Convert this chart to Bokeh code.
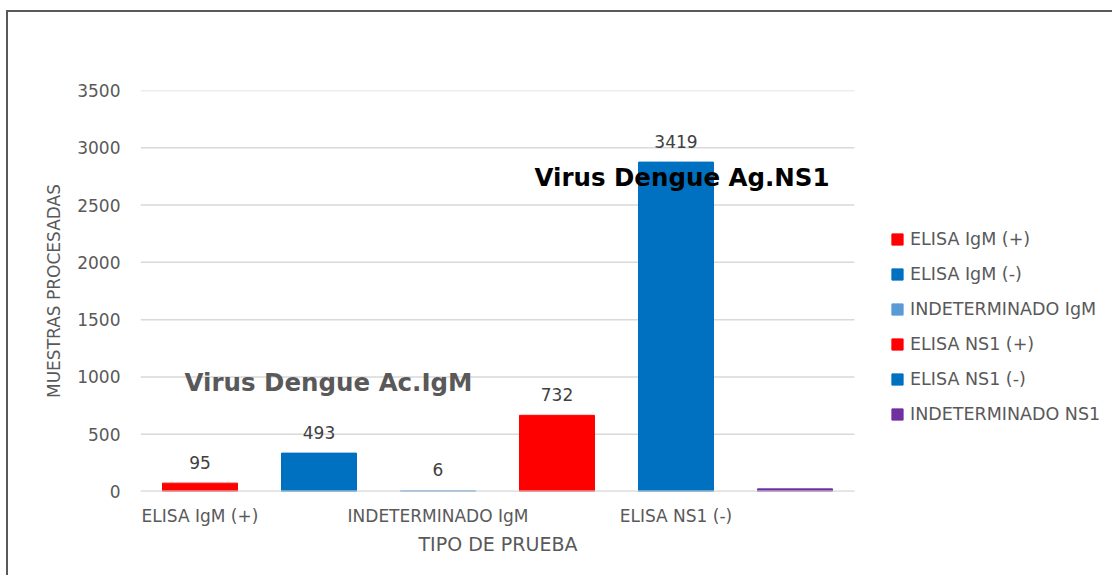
from bokeh.plotting import figure
from bokeh.models import (ColumnDataSource, Range1d, FixedTicker, Label, Legend, LegendItem, Title)
from bokeh.core.properties import value
from bokeh.embed import file_html
from bokeh.resources import INLINE

categories = ["ELISA IgM (+)", "ELISA IgM (-)", "INDETERMINADO IgM",
              "ELISA NS1 (+)", "ELISA NS1 (-)", "INDETERMINADO NS1"]
bar_heights = [73, 335, 6, 665, 2875, 23]
data_labels = ["95", "493", "6", "732", "3419", ""]
bar_colors = ["#FF0000", "#0070C0", "#5B9BD5", "#FF0000", "#0070C0", "#7030A0"]
shown_ticks = ["ELISA IgM (+)", "INDETERMINADO IgM", "ELISA NS1 (-)"]
y_ticks = [0, 500, 1000, 1500, 2000, 2500, 3000, 3500]

FONT = "DejaVu Sans"
GREY = "#595959"

idx = list(range(len(categories)))
src = ColumnDataSource(dict(x=idx, cat=categories, h=bar_heights, lab=data_labels, col=bar_colors))

W, H = 1106, 565
ML, MB, MT = 132, 86, 78
cat_px = 714                      # width of the category area in pixels
frame_w = W - ML
x_start = -0.5
x_stop = len(categories) - 0.5
x_end = x_start + frame_w * len(categories) / cat_px

p = figure(x_range=Range1d(x_start, x_end), y_range=Range1d(y_ticks[0], y_ticks[-1]),
           width=W, height=H, output_backend="svg", toolbar_location=None,
           min_border_left=ML, min_border_right=0, min_border_top=MT, min_border_bottom=MB)
p.styles = {"margin-left": "6px", "margin-top": "10px",
            "border-left": "2px solid #595959", "border-top": "2px solid #595959"}
p.outline_line_color = None

# grid lines limited to the category area
p.xgrid.grid_line_color = None
p.ygrid.grid_line_color = None
n = len(y_ticks)
p.segment(x0=[x_start] * n, x1=[x_stop] * n, y0=y_ticks, y1=y_ticks,
          line_color="#D9D9D9", line_width=1.5)

r = p.vbar(x="x", top="h", width=0.63, color="col", source=src)
# category axis line drawn over the bar bases
p.segment(x0=[x_start], x1=[x_stop], y0=[y_ticks[0]], y1=[y_ticks[0]],
          line_color="#D9D9D9", line_width=2)
p.text(x="x", y="h", text="lab", source=src, y_offset=-21, text_align="center",
       text_baseline="middle", text_font=value(FONT), text_font_size="17px",
       text_color="#404040")

# axes
p.yaxis.ticker = FixedTicker(ticks=y_ticks)
p.yaxis.axis_line_color = None
p.yaxis.major_tick_line_color = None
p.yaxis.minor_tick_line_color = None
p.yaxis.major_tick_out = 0
p.yaxis.major_label_standoff = 20
p.yaxis.axis_label = "MUESTRAS PROCESADAS"
p.yaxis.axis_label_standoff = 10
p.yaxis.axis_label_text_font = FONT
p.yaxis.axis_label_text_font_size = "17px"
p.yaxis.axis_label_text_font_style = "normal"
p.yaxis.axis_label_text_color = GREY

p.xaxis.ticker = FixedTicker(ticks=[categories.index(c) for c in shown_ticks])
p.xaxis.major_label_overrides = {categories.index(c): c for c in shown_ticks}
p.xaxis.axis_line_color = None
p.xaxis.major_tick_line_color = None
p.xaxis.minor_tick_line_color = None
p.xaxis.major_tick_out = 0
p.xaxis.major_label_standoff = 14

for ax in (p.xaxis, p.yaxis):
    ax.major_label_text_font = FONT
    ax.major_label_text_font_size = "17px"
    ax.major_label_text_color = GREY

# x axis title, under the category area
x_title = Title(text="TIPO DE PRUEBA", align="left", offset=278,
                standoff=4, text_font=FONT, text_font_size="19px",
                text_font_style="normal", text_color=GREY)
p.add_layout(x_title, "below")

# chart titles
p.add_layout(Label(x=188, y=109.5, x_units="screen", y_units="screen",
                   text="Virus Dengue Ac.IgM", text_align="center", text_baseline="middle",
                   text_font=FONT, text_font_size="24.5px", text_font_style="bold",
                   text_color=GREY))
p.add_layout(Label(x=541.5, y=314, x_units="screen", y_units="screen",
                   text="Virus Dengue Ag.NS1", text_align="center", text_baseline="middle",
                   text_font=FONT, text_font_size="24.5px", text_font_style="bold",
                   text_color="#000000"))

items = [LegendItem(label=c, renderers=[r], index=i) for i, c in enumerate(categories)]
lg = Legend(items=items, location=(750, 65), orientation="vertical",
            border_line_color=None, background_fill_alpha=0, padding=0, margin=0,
            spacing=11, glyph_width=14, glyph_height=14, label_height=24,
            label_standoff=6, label_text_font=FONT, label_text_font_size="17.5px",
            label_text_color=GREY)
p.add_layout(lg)

open("out.html", "w").write(file_html(p, INLINE))
